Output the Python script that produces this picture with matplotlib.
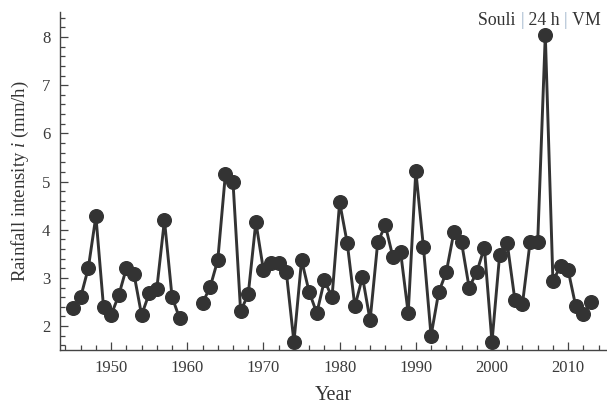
import numpy as np
import matplotlib
matplotlib.use('Agg')
import matplotlib.pyplot as plt
from matplotlib.ticker import MultipleLocator

# Annual maximum rainfall intensity, Souli station (24 h)
years = list(range(1945, 2014))
intensity = [2.37, 2.60, 3.20, 4.28, 2.40, 2.23, 2.64, 3.20, 3.08, 2.23,
             2.68, 2.78, 4.20, 2.60, 2.16, np.nan, np.nan, 2.48, 2.81, 3.37,
             5.15, 4.99, 2.31, 2.66, 4.16, 3.16, 3.30, 3.30, 3.12, 1.67,
             3.37, 2.71, 2.27, 2.95, 2.60, 4.57, 3.72, 2.41, 3.02, 2.12,
             3.74, 4.09, 3.43, 3.54, 2.27, 5.22, 3.64, 1.80, 2.70, 3.12,
             3.95, 3.74, 2.80, 3.12, 3.63, 1.67, 3.47, 3.72, 2.55, 2.46,
             3.74, 3.74, 8.05, 2.94, 3.24, 3.16, 2.41, 2.25, 2.50]

plt.rcParams['font.family'] = ['Liberation Serif', 'DejaVu Serif']
plt.rcParams['mathtext.fontset'] = 'custom'
plt.rcParams['mathtext.it'] = 'Liberation Serif:italic'
plt.rcParams['mathtext.rm'] = 'Liberation Serif'

fig = plt.figure(figsize=(6.07, 4.12), dpi=100)
ax = fig.add_axes([0.099, 0.150, 0.901, 0.821])

ax.plot(years, intensity, color='#333333', linewidth=2.1, marker='o',
        markersize=9.8, markerfacecolor='#333333', markeredgecolor='#333333')

ax.set_xlim(1943.3, 2015.1)
ax.set_ylim(1.5, 8.52)
ax.xaxis.set_major_locator(MultipleLocator(10))
ax.xaxis.set_minor_locator(MultipleLocator(2))
ax.yaxis.set_major_locator(MultipleLocator(1))
ax.yaxis.set_minor_locator(MultipleLocator(0.2))

for side in ['top', 'right']:
    ax.spines[side].set_visible(False)
for side in ['left', 'bottom']:
    ax.spines[side].set_color('#444444')
    ax.spines[side].set_linewidth(1.0)

ax.tick_params(which='both', direction='in', color='#444444', width=0.9)
ax.tick_params(which='major', length=6, labelsize=12, labelcolor='#3a3a3a', pad=7)
ax.tick_params(which='minor', length=3.5)

ax.set_xlabel('Year', fontsize=14.5, color='#333333', labelpad=7)
ax.set_ylabel('Rainfall intensity $i$ (mm/h)', fontsize=13.5, color='#333333', labelpad=8)

# Title label with light separators
parts = [('Souli ', '#333333'), ('|', '#9ab0c8'), (' 24 h ', '#333333'),
         ('|', '#9ab0c8'), (' VM', '#333333')]
prev = None
for txt, col in parts:
    if prev is None:
        prev = ax.text(0.765, 0.974, txt, transform=ax.transAxes, fontsize=12.8,
                       color=col, ha='left', va='center')
    else:
        prev = ax.annotate(txt, xy=(1, 0), xycoords=prev, fontsize=12.8,
                           color=col, ha='left', va='bottom')

fig.savefig('out.png', dpi=100)
